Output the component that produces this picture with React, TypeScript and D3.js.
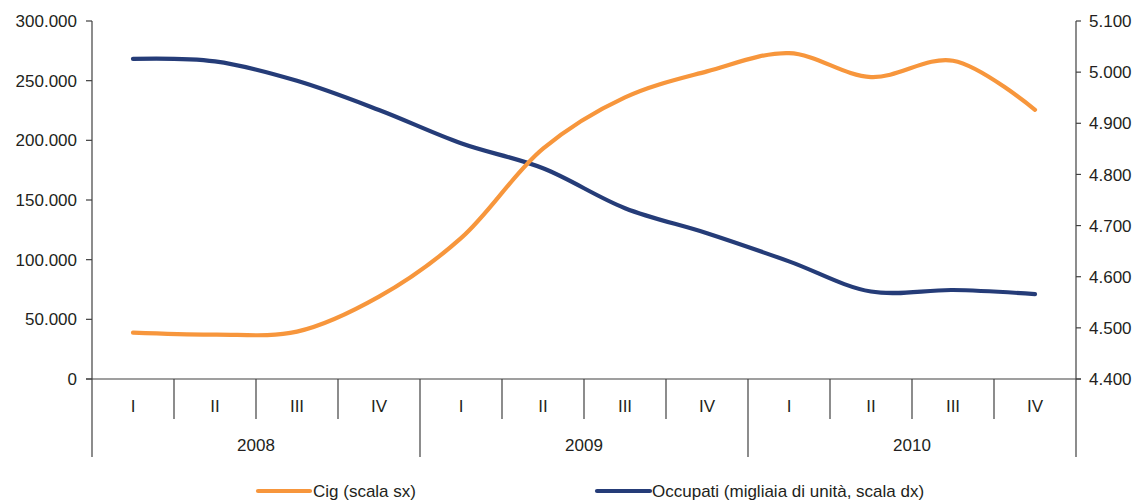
import React from "react";
import * as d3 from "d3";

const years = ["2008", "2009", "2010"];
const quarters = ["I", "II", "III", "IV"];
const categories = years.flatMap((y) => quarters.map((q) => `${y}-${q}`));
const cig = [38800, 37200, 39700, 69000, 118000, 193000, 236000, 257800, 273000, 253000, 266700, 225600];
const occupati = [5026, 5021, 4983, 4926, 4861, 4812, 4734, 4685, 4630, 4571, 4574, 4566];
const leftTicks = [0, 50000, 100000, 150000, 200000, 250000, 300000];
const rightTicks = [4400, 4500, 4600, 4700, 4800, 4900, 5000, 5100];

const W = 1142, H = 504;
const left = 92, right = 1076, top = 21, bottom = 379;
const FONT = "'Liberation Sans', Arial, sans-serif";
const TXT = "#231f20";
const AX = "#404040";
const ORANGE = "#f7963c";
const BLUE = "#253c78";

const fmt = (v: number) => d3.format(",.0f")(v).replace(/,/g, ".");

export default function App() {
  const x = d3.scaleBand<string>().domain(categories).range([left, right]);
  const yL = d3.scaleLinear().domain([0, 300000]).range([bottom, top]);
  const yR = d3.scaleLinear().domain([4400, 5100]).range([bottom, top]);
  const cx = (c: string) => (x(c) as number) + x.bandwidth() / 2;

  const lineL = d3
    .line<number>()
    .x((_, i) => cx(categories[i]))
    .y((d) => yL(d))
    .curve(d3.curveCatmullRom.alpha(0.5));
  const lineR = d3
    .line<number>()
    .x((_, i) => cx(categories[i]))
    .y((d) => yR(d))
    .curve(d3.curveCatmullRom.alpha(0.5));

  const yearW = x.bandwidth() * 4;
  const fs = 17;

  return (
    <svg width={W} height={H} style={{ position: "absolute", left: 0, top: 0 }} fontFamily={FONT}>
      <rect width={W} height={H} fill="#fff" />
      {/* left axis */}
      <line x1={left} x2={left} y1={top} y2={457} stroke={AX} strokeWidth={1.2} />
      {leftTicks.map((t) => (
        <g key={"l" + t}>
          <line x1={left - 6} x2={left} y1={yL(t)} y2={yL(t)} stroke={AX} strokeWidth={1.2} />
          <text x={77} y={yL(t)} dy="0.36em" textAnchor="end" fontSize={fs} fill={TXT}>
            {fmt(t)}
          </text>
        </g>
      ))}
      {/* right axis */}
      <line x1={right} x2={right} y1={top} y2={457} stroke={AX} strokeWidth={1.2} />
      {rightTicks.map((t) => (
        <g key={"r" + t}>
          <line x1={right} x2={right + 5} y1={yR(t)} y2={yR(t)} stroke={AX} strokeWidth={1.2} />
          <text x={1089} y={yR(t)} dy="0.36em" textAnchor="start" fontSize={fs} fill={TXT}>
            {fmt(t)}
          </text>
        </g>
      ))}
      {/* category axis */}
      <line x1={left - 6} x2={right + 5} y1={bottom} y2={bottom} stroke={AX} strokeWidth={1.2} />
      {categories.map((c, i) => (
        <g key={c}>
          {i > 0 && i % 4 !== 0 && (
            <line x1={x(c) as number} x2={x(c) as number} y1={bottom} y2={419} stroke={AX} strokeWidth={1.2} />
          )}
          {i > 0 && i % 4 === 0 && (
            <line x1={x(c) as number} x2={x(c) as number} y1={bottom} y2={457} stroke={AX} strokeWidth={1.2} />
          )}
          <text x={cx(c)} y={406} dy="0.36em" textAnchor="middle" fontSize={fs} fill={TXT}>
            {quarters[i % 4]}
          </text>
        </g>
      ))}
      {years.map((y, i) => (
        <text key={y} x={left + yearW * (i + 0.5)} y={445} dy="0.36em" textAnchor="middle" fontSize={fs} fill={TXT}>
          {y}
        </text>
      ))}
      {/* series */}
      <path d={lineR(occupati) as string} fill="none" stroke={BLUE} strokeWidth={4.2} strokeLinecap="round" />
      <path d={lineL(cig) as string} fill="none" stroke={ORANGE} strokeWidth={4.2} strokeLinecap="round" />
      {/* legend */}
      <line x1={258} x2={310} y1={491} y2={491} stroke={ORANGE} strokeWidth={4.2} strokeLinecap="round" />
      <text x={313} y={491} dy="0.36em" fontSize={fs} fill={TXT}>
        Cig (scala sx)
      </text>
      <line x1={597} x2={650} y1={491} y2={491} stroke={BLUE} strokeWidth={4.2} strokeLinecap="round" />
      <text x={652} y={491} dy="0.36em" fontSize={fs} fill={TXT}>
        Occupati (migliaia di unità, scala dx)
      </text>
    </svg>
  );
}
